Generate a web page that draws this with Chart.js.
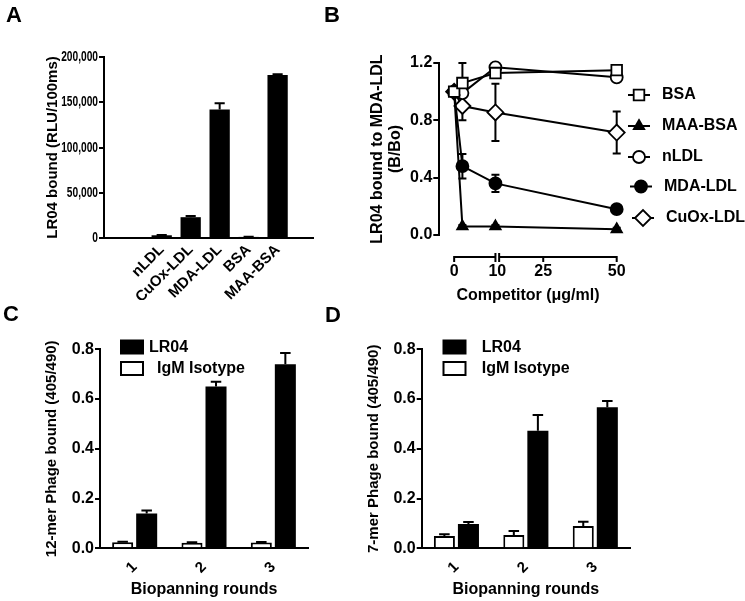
<!DOCTYPE html>
<html lang="en">
<head>
<meta charset="UTF-8">
<title>LR04 binding</title>
<script src="https://cdn.jsdelivr.net/npm/chart.js@4"></script>
<style>
  html, body { margin: 0; padding: 0; background: #fff; }
  body { width: 745px; height: 601px; position: relative; overflow: hidden; }
  canvas { position: absolute; }
  .tag { position: absolute; font: bold 22px Arial, 'Liberation Sans', sans-serif; line-height: 1; color: #000; }
</style>
</head>
<body>
<canvas id="chartA" width="360" height="300" style="left:0;top:0"></canvas>
<canvas id="chartB" width="385" height="305" style="left:360px;top:0"></canvas>
<canvas id="chartC" width="360" height="301" style="left:0;top:300px"></canvas>
<canvas id="chartD" width="385" height="301" style="left:360px;top:300px"></canvas>
<div class="tag" style="left:6px;top:4px">A</div>
<div class="tag" style="left:324px;top:4px">B</div>
<div class="tag" style="left:3px;top:303px">C</div>
<div class="tag" style="left:325px;top:304px">D</div>
<script>
// panel A
const aCategories = ['nLDL', 'CuOx-LDL', 'MDA-LDL', 'BSA', 'MAA-BSA'];
const aValues = [3000, 23000, 142000, 1200, 180000];
const aErrors = [400, 1200, 7000, 300, 1000];

// panel B (x = competitor, µg/ml)
const bDoses = [0, 2, 10, 50];
const bTickLabels = [0, 10, 25, 50];
const bNames = ['BSA', 'MAA-BSA', 'nLDL', 'MDA-LDL', 'CuOx-LDL'];
const bBSA = [1.0, 1.06, 1.13, 1.15];
const bBSAErr = [0, 0.14, 0.02, 0.02];
const bMAABSA = [1.0, 0.06, 0.06, 0.04];
const bMAABSAErr = [0, 0.01, 0.01, 0.01];
const bNLDL = [1.0, 0.99, 1.17, 1.10];
const bNLDLErr = [0, 0.03, 0.02, 0.02];
const bMDALDL = [1.0, 0.48, 0.36, 0.18];
const bMDALDLErr = [0, 0.085, 0.06, 0.03];
const bCuOxLDL = [1.0, 0.90, 0.855, 0.715];
const bCuOxLDLErr = [0, 0.10, 0.20, 0.147];

// panels C and D
const rounds = ['1', '2', '3'];
const cLR04 = [0.14, 0.65, 0.74];
const cLR04Err = [0.012, 0.02, 0.045];
const cIgM = [0.024, 0.022, 0.023];
const cIgMErr = [0.002, 0.002, 0.002];
const dLR04 = [0.098, 0.473, 0.567];
const dLR04Err = [0.008, 0.063, 0.025];
const dIgM = [0.049, 0.053, 0.09];
const dIgMErr = [0.007, 0.017, 0.017];

const FONT = "Arial, 'Liberation Sans', Helvetica, sans-serif";
Chart.defaults.font.family = FONT;
Chart.defaults.font.weight = 'bold';
Chart.defaults.color = '#000';
Chart.defaults.animation = false;
Chart.defaults.plugins.legend.display = false;
Chart.defaults.plugins.tooltip.enabled = false;

// broken x axis of panel B: 0-10 at full scale, 10-50 compressed
const BREAK_AT = 10, BREAK_GAP = 0.9, UPPER_RATIO = 0.712;
function bDisplayX(x) {
  return x <= BREAK_AT ? x : BREAK_AT + BREAK_GAP + (x - BREAK_AT) * UPPER_RATIO;
}

function drawMarker(ctx, style, x, y, r) {
  ctx.beginPath();
  if (style === 'rect') {
    const s = r * Math.SQRT1_2;
    ctx.rect(x - s, y - s, 2 * s, 2 * s);
  } else if (style === 'rectRot') {
    ctx.moveTo(x - r, y); ctx.lineTo(x, y - r); ctx.lineTo(x + r, y); ctx.lineTo(x, y + r); ctx.closePath();
  } else if (style === 'triangle') {
    let a = 0;
    ctx.moveTo(x + Math.sin(a) * r, y - Math.cos(a) * r);
    a += 2 * Math.PI / 3; ctx.lineTo(x + Math.sin(a) * r, y - Math.cos(a) * r);
    a += 2 * Math.PI / 3; ctx.lineTo(x + Math.sin(a) * r, y - Math.cos(a) * r);
    ctx.closePath();
  } else {
    ctx.arc(x, y, r, 0, Math.PI * 2);
  }
  ctx.fill();
  ctx.stroke();
}

// error bars: up only on bars (after), both ways behind line markers (before)
function drawErrors(chart, bars) {
  const ctx = chart.ctx, ys = chart.scales.y;
  chart.data.datasets.forEach((ds, di) => {
    if (!ds.errors) return;
    const meta = chart.getDatasetMeta(di);
    const isBar = meta.type === 'bar';
    if (isBar !== bars) return;
    meta.data.forEach((el, i) => {
      const err = ds.errors[i];
      if (!err) return;
      const raw = ds.data[i];
      const v = typeof raw === 'object' ? raw.y : raw;
      const top = ys.getPixelForValue(v + err);
      const bottom = isBar ? el.y : ys.getPixelForValue(v - err);
      const half = isBar ? el.width * 0.25 : 4;
      ctx.save();
      ctx.strokeStyle = '#000';
      ctx.lineWidth = 2;
      ctx.beginPath();
      ctx.moveTo(el.x, bottom); ctx.lineTo(el.x, top);
      ctx.moveTo(el.x - half, top); ctx.lineTo(el.x + half, top);
      if (!isBar) { ctx.moveTo(el.x - half, bottom); ctx.lineTo(el.x + half, bottom); }
      ctx.stroke();
      ctx.restore();
    });
  });
}
const errorBars = {
  id: 'errorBars',
  beforeDatasetsDraw(chart) { drawErrors(chart, false); },
  afterDatasetsDraw(chart) { drawErrors(chart, true); }
};

// panel A's y labels are set in a condensed face; squeeze them horizontally
const narrowTicks = {
  id: 'narrowTicks',
  afterDraw(chart, args, opts) {
    if (!opts.squeeze) return;
    const ys = chart.scales.y, ctx = chart.ctx;
    ctx.save();
    ctx.font = 'bold ' + opts.size + 'px ' + FONT;
    ctx.fillStyle = '#000';
    ctx.textAlign = 'right';
    ctx.textBaseline = 'middle';
    ys.ticks.forEach(t => {
      ctx.save();
      ctx.translate(ys.right - opts.gap, ys.getPixelForValue(t.value));
      ctx.scale(opts.squeeze, 1);
      ctx.fillText(t.value.toLocaleString('en-US'), 0, 0);
      ctx.restore();
    });
    ctx.restore();
  }
};

const brokenAxis = {
  id: 'brokenAxis',
  afterDraw(chart, args, opts) {
    if (!opts.y) return;
    const xs = chart.scales.x, ctx = chart.ctx, y = opts.y;
    const p0 = xs.getPixelForValue(0);
    const pa = xs.getPixelForValue(BREAK_AT);
    const pb = xs.getPixelForValue(BREAK_AT + BREAK_GAP);
    const pEnd = xs.getPixelForValue(bDisplayX(bTickLabels[bTickLabels.length - 1]));
    ctx.save();
    ctx.strokeStyle = '#000';
    ctx.lineWidth = 2;
    ctx.beginPath();
    ctx.moveTo(p0, y); ctx.lineTo(pa, y);
    ctx.moveTo(pb, y); ctx.lineTo(pEnd, y);
    bTickLabels.forEach(v => {
      if (v === BREAK_AT) return;
      const p = xs.getPixelForValue(bDisplayX(v));
      ctx.moveTo(p, y - 1); ctx.lineTo(p, y + 5);
    });
    ctx.moveTo(pa, y - 4); ctx.lineTo(pa, y + 5);
    ctx.moveTo(pb, y - 4); ctx.lineTo(pb, y + 5);
    ctx.stroke();
    ctx.restore();
  }
};

const lineLegend = {
  id: 'lineLegend',
  afterDraw(chart, args, opts) {
    if (!opts.rows) return;
    const ctx = chart.ctx;
    ctx.save();
    ctx.font = 'bold 16px ' + FONT;
    ctx.textBaseline = 'middle';
    chart.data.datasets.forEach((ds, i) => {
      const y = opts.rows[i], x = opts.x + (opts.shift[i] || 0);
      ctx.strokeStyle = '#000';
      ctx.lineWidth = 2;
      ctx.beginPath(); ctx.moveTo(x - 11, y); ctx.lineTo(x + 11, y); ctx.stroke();
      ctx.fillStyle = ds.pointBackgroundColor;
      ctx.lineWidth = 1.8;
      drawMarker(ctx, ds.pointStyle, x, y, ds.pointRadius);
      ctx.fillStyle = '#000';
      ctx.fillText(ds.label, x + 23, y);
    });
    ctx.restore();
  }
};

const boxLegend = {
  id: 'boxLegend',
  afterDraw(chart, args, opts) {
    if (!opts.items) return;
    const ctx = chart.ctx;
    ctx.save();
    ctx.font = 'bold 16px ' + FONT;
    ctx.textBaseline = 'middle';
    opts.items.forEach(item => {
      const ds = chart.data.datasets[item.index];
      ctx.fillStyle = ds.backgroundColor;
      ctx.strokeStyle = '#000';
      ctx.lineWidth = 2;
      ctx.fillRect(opts.x, item.y - 7, 22, 13);
      ctx.strokeRect(opts.x, item.y - 7, 22, 13);
      ctx.fillStyle = '#000';
      ctx.fillText(ds.label, item.textX, item.y);
    });
    ctx.restore();
  }
};

function yAxis(o) {
  return {
    min: 0, max: o.max,
    border: { color: '#000', width: 2 },
    grid: { drawOnChartArea: false, drawTicks: true, tickLength: o.tickLength, color: '#000', lineWidth: 2 },
    ticks: { display: o.showTicks !== false, stepSize: o.step, padding: 1, font: o.tickFont, callback: o.fmt },
    title: { display: true, text: o.title, font: o.titleFont, padding: { top: 4, bottom: 0 } },
    afterFit(s) { s.width = o.width; }
  };
}

// ---- A ----
new Chart(document.getElementById('chartA'), {
  type: 'bar',
  data: {
    datasets: [{
      label: 'LR04 bound',
      data: aValues.map((v, i) => ({ x: i, y: v })),
      errors: aErrors,
      backgroundColor: '#000',
      borderWidth: 0,
      barPercentage: 0.7,
      categoryPercentage: 1
    }]
  },
  options: {
    responsive: false,
    layout: { padding: { left: 40, right: 47, top: 57, bottom: 0 } },
    plugins: { narrowTicks: { squeeze: 0.68, size: 15, gap: 6 } },
    scales: {
      x: {
        type: 'linear', min: -1.27, max: 4.5,
        border: { color: '#000', width: 2 },
        grid: { display: false, drawTicks: false },
        afterBuildTicks(s) { s.ticks = aCategories.map((c, i) => ({ value: i })); },
        ticks: {
          autoSkip: false, minRotation: 45, maxRotation: 45, padding: 3,
          font: { size: 15, weight: 'bold' },
          callback: (v, i) => aCategories[i]
        },
        afterFit(s) { s.height = 62; }
      },
      y: yAxis({
        max: 200000, step: 50000, width: 64, tickLength: 5, showTicks: false,
        tickFont: { size: 15, weight: 'bold' },
        title: 'LR04 bound (RLU/100ms)',
        titleFont: { size: 15, weight: 'bold', lineHeight: 1.2 }
      })
    }
  },
  plugins: [errorBars, narrowTicks]
});

// ---- B ----
function bSeries(label, values, errors, style, radius, fill) {
  return {
    label: label,
    data: bDoses.map((d, i) => ({ x: bDisplayX(d), y: values[i] })),
    errors: errors,
    borderColor: '#000',
    borderWidth: 2,
    pointStyle: style,
    pointRadius: radius,
    pointBorderWidth: 1.8,
    pointBorderColor: '#000',
    pointBackgroundColor: fill,
    clip: false
  };
}
new Chart(document.getElementById('chartB'), {
  type: 'line',
  data: {
    datasets: [
      bSeries(bNames[0], bBSA, bBSAErr, 'rect', 7.5, '#fff'),
      bSeries(bNames[1], bMAABSA, bMAABSAErr, 'triangle', 6, '#000'),
      bSeries(bNames[2], bNLDL, bNLDLErr, 'circle', 6, '#fff'),
      bSeries(bNames[3], bMDALDL, bMDALDLErr, 'circle', 6, '#000'),
      bSeries(bNames[4], bCuOxLDL, bCuOxLDLErr, 'rectRot', 8, '#fff')
    ]
  },
  options: {
    responsive: false,
    layout: { padding: { left: 4, right: 128.3, top: 63, bottom: 0 } },
    plugins: {
      lineLegend: { x: 279, rows: [95, 126, 157, 186.5, 218], shift: [0, 0, 0, 2, 4] },
      brokenAxis: { y: 257 }
    },
    scales: {
      x: {
        type: 'linear', min: -3.6, max: bDisplayX(50),
        border: { display: false },
        grid: { display: false, drawTicks: false },
        afterBuildTicks(s) {
          s.ticks = bTickLabels.map(v => ({ value: v === BREAK_AT ? BREAK_AT + BREAK_GAP / 2 : bDisplayX(v) }));
        },
        ticks: { autoSkip: false, maxRotation: 0, padding: 27, font: { size: 16, weight: 'bold' },
                 callback: (v, i) => String(bTickLabels[i]) },
        title: { display: true, text: 'Competitor (μg/ml)', font: { size: 16, weight: 'bold', lineHeight: 1.15 },
                 padding: { top: 0, bottom: 0 } },
        afterFit(s) { s.height = 70; }
      },
      y: yAxis({
        max: 1.2, step: 0.4, width: 75.3, tickLength: 6,
        tickFont: { size: 16, weight: 'bold' },
        fmt: v => v.toFixed(1),
        title: ['LR04 bound to MDA-LDL', '(B/Bo)'],
        titleFont: { size: 16, weight: 'bold', lineHeight: 1.15 }
      })
    }
  },
  plugins: [errorBars, brokenAxis, lineLegend]
});

// ---- C and D ----
function phageChart(id, lr04, lr04Err, igm, igmErr, o) {
  new Chart(document.getElementById(id), {
    type: 'bar',
    data: {
      labels: rounds,
      datasets: [
        { label: 'IgM Isotype', data: igm, errors: igmErr, backgroundColor: '#fff', borderColor: '#000',
          borderWidth: 2, barPercentage: 0.875, categoryPercentage: 0.693 },
        { label: 'LR04', data: lr04, errors: lr04Err, backgroundColor: '#000', borderWidth: 0,
          barPercentage: 0.875, categoryPercentage: 0.693 }
      ]
    },
    options: {
      responsive: false,
      layout: { padding: { left: o.left, right: o.right, top: 49.3, bottom: 0 } },
      plugins: {
        boxLegend: { x: o.legendX, items: [
          { index: 1, y: 347.5 - 300, textX: o.textX[0] },
          { index: 0, y: 369 - 300, textX: o.textX[1] }
        ] }
      },
      scales: {
        x: {
          border: { color: '#000', width: 2 },
          grid: { display: false, drawTicks: false },
          ticks: { minRotation: 45, maxRotation: 45, padding: 10, font: { size: 15, weight: 'bold' } },
          title: { display: true, text: 'Biopanning rounds', font: { size: 16, weight: 'bold', lineHeight: 1.15 },
                   padding: { top: 0, bottom: 1.8 } },
          afterFit(s) { s.height = 52.7; }
        },
        y: yAxis({
          max: 0.8, step: 0.2, width: o.yWidth, tickLength: 5,
          tickFont: { size: 16, weight: 'bold' },
          fmt: v => v.toFixed(1),
          title: o.title,
          titleFont: { size: 15, weight: 'bold', lineHeight: 1.2 }
        })
      }
    },
    plugins: [errorBars, boxLegend]
  });
}
phageChart('chartC', cLR04, cLR04Err, cIgM, cIgMErr, {
  left: 39, right: 52, yWidth: 61, legendX: 121, textX: [149, 157],
  title: '12-mer Phage bound (405/490)'
});
phageChart('chartD', dLR04, dLR04Err, dIgM, dIgMErr, {
  left: 1, right: 115, yWidth: 60.7, legendX: 83.5, textX: [121.7, 121.7],
  title: '7-mer Phage bound (405/490)'
});
</script>
</body>
</html>
